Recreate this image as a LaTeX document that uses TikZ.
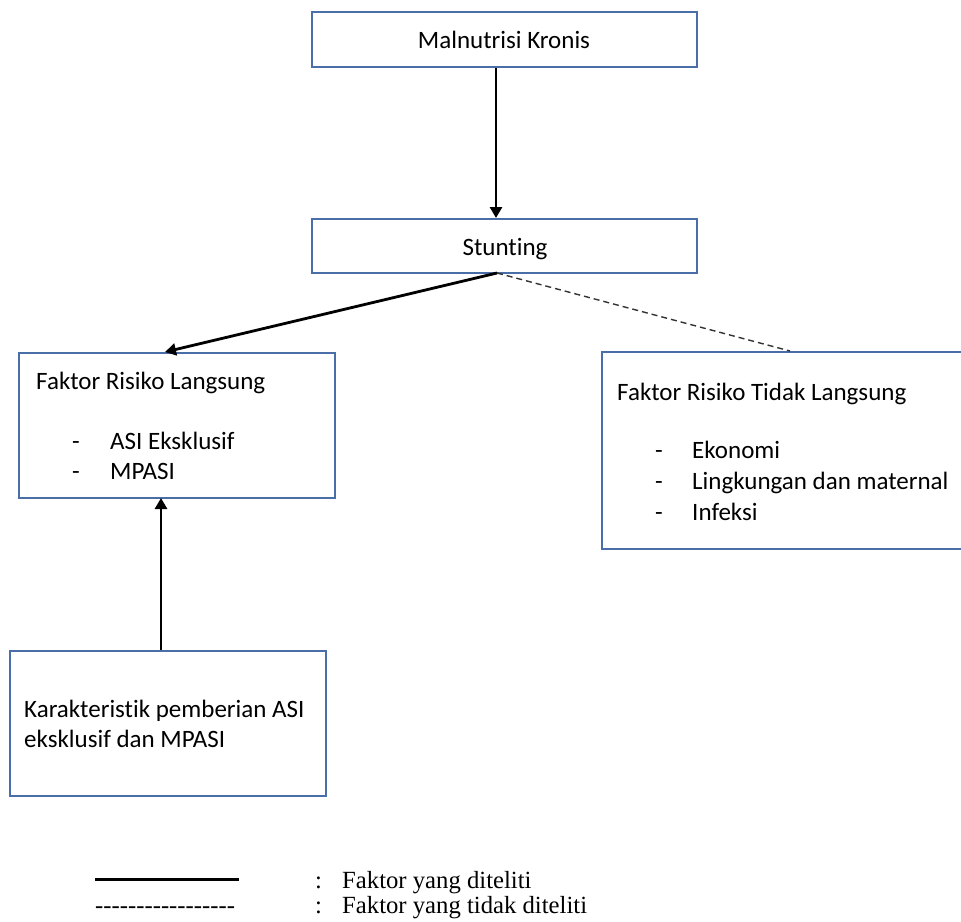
\documentclass[tikz,border=0pt]{standalone}
\usepackage{fontspec}
\setmainfont[Ligatures=NoCommon]{Carlito}
\newfontfamily\legendfont{Liberation Serif}
\usetikzlibrary{arrows.meta}
\definecolor{boxblue}{HTML}{4A6FA8}
\tikzset{
  box/.style={draw=boxblue, line width=2pt, fill=white},
  conn/.style={line width=2.8pt, -{Triangle[length=11pt,width=12pt]}},
  dconn/.style={line width=1.4pt, dash pattern=on 6pt off 4pt, draw=black!80},
  txt/.style={anchor=base west, inner sep=0pt, font=\fontsize{25}{30}\selectfont},
  ctxt/.style={anchor=base, inner sep=0pt, font=\fontsize{25}{30}\selectfont},
  ltxt/.style={anchor=base west, inner sep=0pt, font=\legendfont\fontsize{24.7}{28}\selectfont},
}
\begin{document}
\begin{tikzpicture}[x=1pt,y=-1pt]
\useasboundingbox (0,0) rectangle (961,921);
% boxes
\node[box, minimum width=385pt, minimum height=55pt, anchor=north west] (mk) at (311,11) {};
\node[ctxt] (mkt) at (504,48) {Malnutrisi Kronis};
\node[box, minimum width=385pt, minimum height=54pt, anchor=north west] (st) at (311,218) {};
\node[ctxt] (stt) at (505,255) {Stunting};
\node[box, minimum width=316pt, minimum height=145pt, anchor=north west] (frl) at (18,352) {};
\node[txt] (frl1) at (36,389) {Faktor Risiko Langsung};
\node[txt] (frl2) at (72,449) {-};
\node[txt] (frl3) at (110,449) {ASI Eksklusif};
\node[txt] (frl4) at (72,479) {-};
\node[txt] (frl5) at (110,479) {MPASI};
\node[box, minimum width=380pt, minimum height=197pt, anchor=north west] (frt) at (601,351) {};
\node[txt] (frt1) at (617,400) {Faktor Risiko Tidak Langsung};
\node[txt] (frt2) at (655,458) {-};
\node[txt] (frt3) at (692,458) {Ekonomi};
\node[txt] (frt4) at (655,489) {-};
\node[txt] (frt5) at (692,489) {Lingkungan dan maternal};
\node[txt] (frt6) at (655,520) {-};
\node[txt] (frt7) at (692,520) {Infeksi};
\node[box, minimum width=316pt, minimum height=145pt, anchor=north west] (kar) at (9,650) {};
\node[txt] (kar1) at (24,717) {Karakteristik pemberian ASI};
\node[txt] (kar2) at (24,747) {eksklusif dan MPASI};
% connectors
\coordinate (stb) at (497,273);
\coordinate (frltop) at (165,352);
\coordinate (frttop) at (790,351);
\coordinate (karTop) at (161,650);
\coordinate (frlbot) at (161,498);
\draw[conn] (mk.south -| 496,0) -- (st.north -| 496,0);
\draw[conn] (stb) -- (frltop);
\draw[dconn] (stb) -- (frttop);
\draw[conn] (karTop) -- (frlbot);
% legend
\coordinate (la) at (95,879);
\coordinate (lb) at (239,879);
\draw[line width=3pt] (la) -- (lb);
\node[ltxt] (ld) at (95,913) {-----------------};
\node[ltxt] (lc1) at (315,888) {:};
\node[ltxt] (lt1) at (342,888) {Faktor yang diteliti};
\node[ltxt] (lc2) at (315,913) {:};
\node[ltxt] (lt2) at (342,913) {Faktor yang tidak diteliti};
\end{tikzpicture}
\end{document}
